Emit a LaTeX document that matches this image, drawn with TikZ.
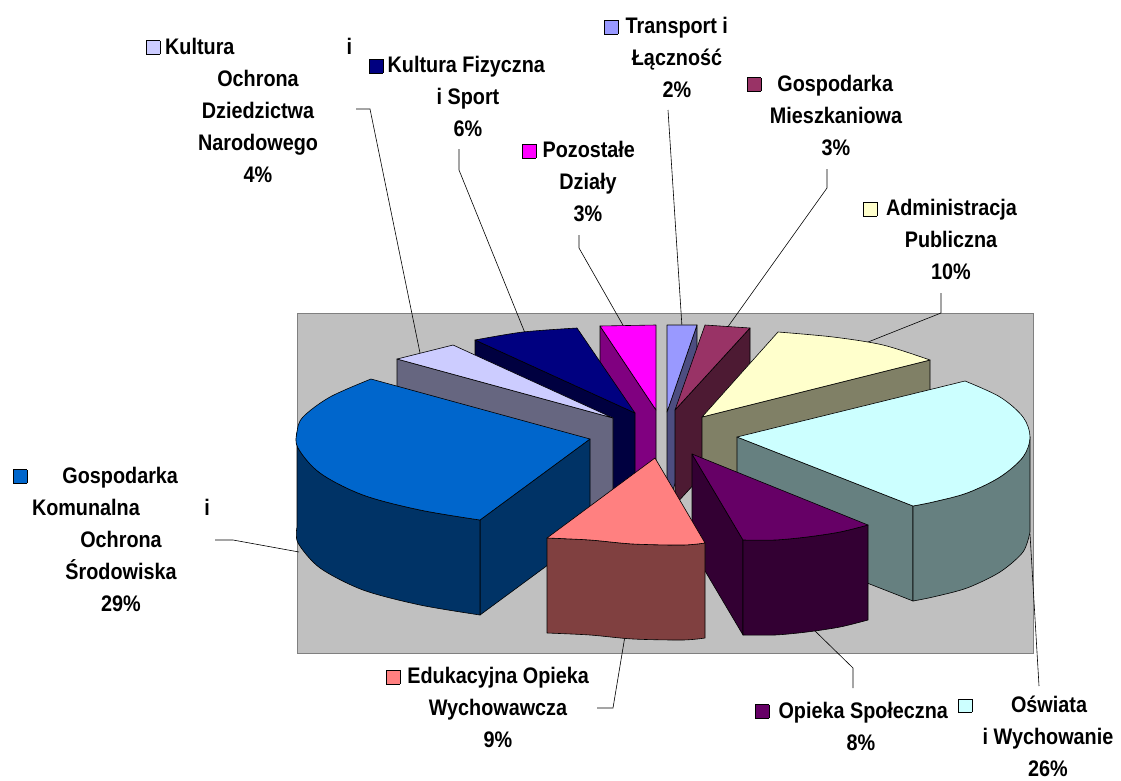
\documentclass[tikz,border=0pt]{standalone}
\usepackage{fontspec}
\newfontfamily\labfont{Liberation Sans}[FakeStretch=0.88]
\definecolor{blueT}{HTML}{0066CC}\definecolor{blueS}{HTML}{003366}
\definecolor{kultT}{HTML}{CCCCFF}\definecolor{kultS}{HTML}{666680}
\definecolor{navyT}{HTML}{000080}\definecolor{navyS}{HTML}{000040}
\definecolor{magT}{HTML}{FF00FF}\definecolor{magS}{HTML}{800080}
\definecolor{trT}{HTML}{9999FF}\definecolor{trS}{HTML}{4D4D80}
\definecolor{mieT}{HTML}{993366}\definecolor{mieS}{HTML}{4D1A33}
\definecolor{admT}{HTML}{FFFFCC}\definecolor{admS}{HTML}{808066}
\definecolor{oswT}{HTML}{CCFFFF}\definecolor{oswS}{HTML}{668080}
\definecolor{opT}{HTML}{660066}\definecolor{opS}{HTML}{330033}
\definecolor{eduT}{HTML}{FF8080}\definecolor{eduS}{HTML}{804040}
\definecolor{plotbg}{HTML}{C0C0C0}\definecolor{plotbd}{HTML}{808080}
\setlength\fboxsep{0pt}\setlength\fboxrule{0.6pt}
\newcommand\lsq[1]{\fcolorbox{black}{#1}{\rule{0pt}{13pt}\rule{13pt}{0pt}}}
\tikzset{
  face/.style={draw=black, line width=0.6pt, line join=round},
  lead/.style={draw=black, line width=0.6pt},
  lab/.style={font={\labfont\bfseries\fontsize{22.5}{32}\selectfont}, align=center, inner sep=0pt},
}
\begin{document}
\begin{tikzpicture}[x=1pt,y=-1pt]
\useasboundingbox (0,0) rectangle (1121,781);
\fill[white] (0,0) rectangle (1121,781);
% plot area
\draw[fill=plotbg, draw=plotbd, line width=0.8pt] (297,313) rectangle (1033,653);

% leader lines
\coordinate (l1a) at (356,109); \coordinate (l1b) at (370,109); \coordinate (l1c) at (420,353);
\coordinate (l2a) at (459,149); \coordinate (l2b) at (459,170); \coordinate (l2c) at (525,333);
\coordinate (l3a) at (579,235); \coordinate (l3b) at (579,248); \coordinate (l3c) at (624,327);
\coordinate (l4a) at (668,110); \coordinate (l4c) at (682,327);
\coordinate (l5a) at (827,169); \coordinate (l5b) at (827,188); \coordinate (l5c) at (727,328);
\coordinate (l6a) at (941,293); \coordinate (l6b) at (941,313); \coordinate (l6c) at (863,344);
\coordinate (l7a) at (215,540); \coordinate (l7b) at (233,540); \coordinate (l7c) at (299,552);
\coordinate (l8a) at (597,708); \coordinate (l8b) at (613,708); \coordinate (l8c) at (625,636);
\coordinate (l9a) at (853,688); \coordinate (l9b) at (853,668); \coordinate (l9c) at (813,629);
\coordinate (l10a) at (1039,686); \coordinate (l10c) at (1030,534);
\draw[lead] (l1a) -- (l1b) -- (l1c);
\draw[lead] (l2a) -- (l2b) -- (l2c);
\draw[lead] (l3a) -- (l3b) -- (l3c);
\draw[lead] (l4a) -- (l4c);
\draw[lead] (l5a) -- (l5b) -- (l5c);
\draw[lead] (l6a) -- (l6b) -- (l6c);
\draw[lead] (l7a) -- (l7b) -- (l7c);
\draw[lead] (l8a) -- (l8b) -- (l8c);
\draw[lead] (l9a) -- (l9b) -- (l9c);
\draw[lead] (l10a) -- (l10c);

% Pozostale Dzialy (magenta)
\draw[face, fill=magS] (600,326) -- (656,410) -- (656,505) -- (600,421) -- cycle;
\draw[face, fill=magT] (600,326) -- (656,325) -- (656,410) -- cycle;
% Transport
\draw[face, fill=trS] (697,325) -- (667,412) -- (667,507) -- (697,420) -- cycle;
\draw[face, fill=trT] (667,325) -- (697,325) -- (667,412) -- cycle;
% Kultura Fizyczna (navy)
\draw[face, fill=navyS] (475,340) -- (635,413) -- (635,508) -- (475,435) -- cycle;
\draw[face, fill=navyT] plot[smooth] coordinates {(475,340) (523,332) (577,328)} -- (635,413) -- cycle;
% Gospodarka Mieszkaniowa
\draw[face, fill=mieS] (750,328) -- (675,410) -- (675,505) -- (750,423) -- cycle;
\draw[face, fill=mieT] (675,410) -- (705,325) -- (750,328) -- cycle;
% Kultura i Ochrona
\draw[face, fill=kultS] (397,359) -- (613,418) -- (613,513) -- (397,454) -- cycle;
\draw[face, fill=kultT] (397,359) -- (453,345) -- (613,418) -- cycle;
% Administracja
\draw[face, fill=admS] (702,417) -- (930,360) -- (930,455) -- (702,512) -- cycle;
\draw[face, fill=admT] (702,417) -- plot[smooth] coordinates {(778,332) (833,337) (883,345) (930,360)} -- cycle;
% Gospodarka Komunalna (blue)
\draw[face, fill=blueS] (480,520) -- (590,439) -- (590,534) -- (480,615) -- cycle;
\draw[face, fill=blueS] plot[smooth] coordinates {(297,432) (298,448) (320,473) (363,495) (420,510) (480,520)}
   -- plot[smooth] coordinates {(480,615) (420,605) (363,590) (320,568) (298,543) (297,527)} -- cycle;
\draw[face, fill=blueT] (590,439) -- plot[smooth, tension=0.55] coordinates {(371,379) (330,397) (303,417) (297,432) (298,448) (320,473) (363,495) (420,510) (480,520)} -- cycle;
% Oswiata
\draw[face, fill=oswS] (737,437) -- (913,506) -- (913,601) -- (737,532) -- cycle;
\draw[face, fill=oswS] plot[smooth] coordinates {(1030,437) (1023,457) (1000,477) (967,493) (933,502) (913,506)}
   -- plot[smooth] coordinates {(913,601) (933,597) (967,588) (1000,572) (1023,552) (1030,532)} -- cycle;
\draw[face, fill=oswT] (737,437) -- plot[smooth, tension=0.55] coordinates {(965,381) (1000,397) (1023,417) (1030,437) (1023,457) (1000,477) (967,493) (933,502) (913,506)} -- cycle;
% Opieka Spoleczna
\draw[face, fill=opS] (692,454) -- (743,540) -- (743,635) -- (692,549) -- cycle;
\draw[face, fill=opS] plot[smooth] coordinates {(743,540) (775,540) (807,537) (840,532) (868,525)}
   -- plot[smooth] coordinates {(868,620) (840,627) (807,632) (775,635) (743,635)} -- cycle;
\draw[face, fill=opT] (692,454) -- plot[smooth] coordinates {(868,525) (840,532) (807,537) (775,540) (743,540)} -- cycle;
% Edukacyjna Opieka
\draw[face, fill=eduS] plot[smooth] coordinates {(547,538) (590,540) (633,544) (683,545) (705,543)}
   -- plot[smooth] coordinates {(705,638) (683,640) (633,639) (590,635) (547,633)} -- cycle;
\draw[face, fill=eduT] (655,458) -- plot[smooth] coordinates {(547,538) (590,540) (633,544) (683,545) (705,543)} -- cycle;

% labels
\node[lab] (lab1) at (258,110) {\makebox[224pt][l]{\makebox[206pt]{\lsq{kultT}\hspace{5pt}Kultura\hfill i}}\\Ochrona\\Dziedzictwa\\Narodowego\\4\%};
\node[lab] (lab2) at (468,96.5) {\makebox[198pt][l]{\makebox[176pt]{\lsq{navyT}\hfill Kultura Fizyczna}}\\i Sport\\6\%};
\node[lab] (lab3) at (588,181.5) {\makebox[132pt][l]{\makebox[113pt]{\lsq{magT}\hfill Pozostałe}}\\Działy\\3\%};
\node[lab] (lab4) at (677,57.5) {\makebox[146pt][l]{\makebox[124pt]{\lsq{trT}\hfill Transport i}}\\Łączność\\2\%};
\node[lab] (lab5) at (836,115) {\makebox[178pt][l]{\makebox[146pt]{\lsq{mieT}\hfill Gospodarka}}\\Mieszkaniowa\\3\%};
\node[lab] (lab6) at (951,239.5) {\makebox[176pt][l]{\makebox[154pt]{\lsq{admT}\hfill Administracja}}\\Publiczna\\10\%};
\node[lab] (lab7) at (121,539) {\makebox[216pt][l]{\makebox[165pt]{\lsq{blueT}\hfill Gospodarka}}\\\makebox[178pt]{Komunalna\hfill i}\\Ochrona\\Środowiska\\29\%};
\node[lab] (lab8) at (498,707.5) {\makebox[224pt][l]{\makebox[203pt]{\lsq{eduT}\hfill Edukacyjna Opieka}}\\Wychowawcza\\9\%};
\node[lab] (lab9) at (861,726) {\makebox[212pt][l]{\makebox[193pt]{\lsq{opT}\hfill Opieka Społeczna}}\\8\%};
\node[lab] (lab10) at (1048,736) {\makebox[180pt][l]{\makebox[129pt]{\lsq{oswT}\hfill Oświata}}\\i Wychowanie\\26\%};
\end{tikzpicture}
\end{document}
